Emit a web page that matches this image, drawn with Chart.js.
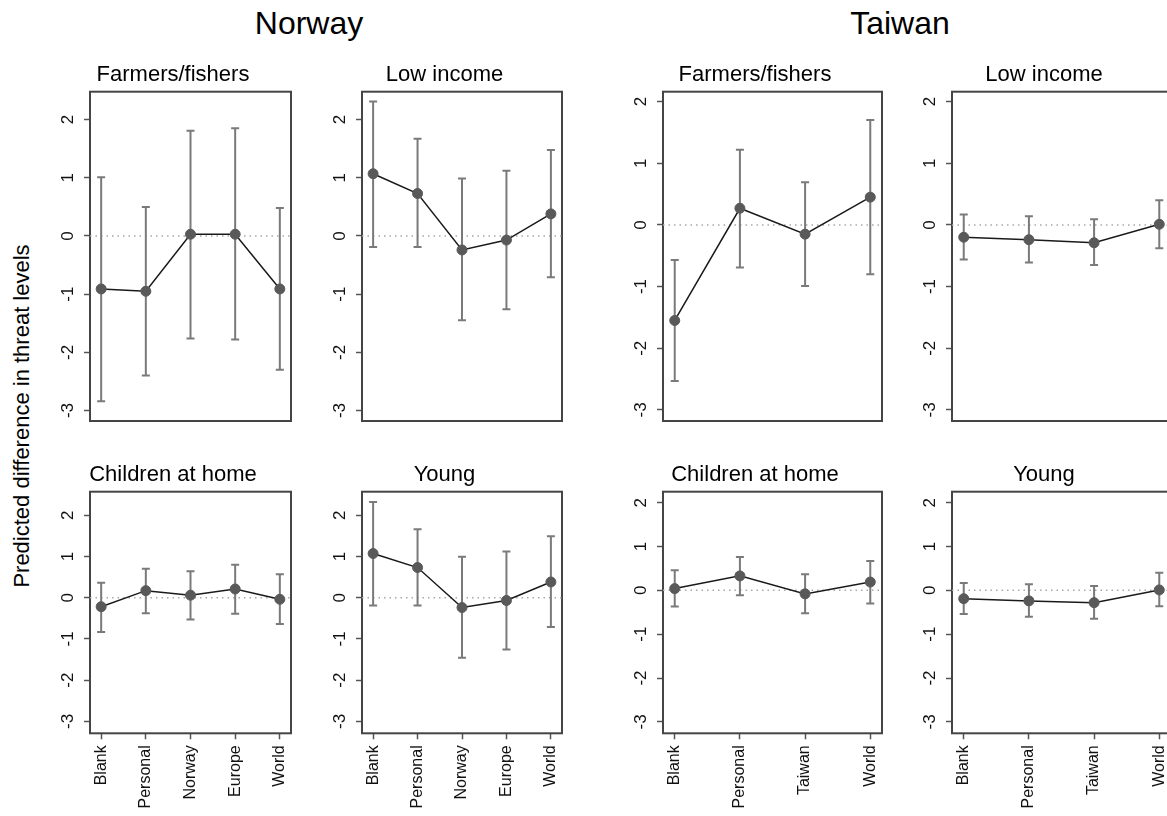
<!DOCTYPE html>
<html>
<head>
<meta charset="utf-8">
<script src="https://cdn.jsdelivr.net/npm/chart.js@4.4.0/dist/chart.umd.min.js"></script>
<style>
  body { margin: 0; width: 1167px; height: 816px; overflow: hidden; background: #fff; position: relative;
         font-family: 'Liberation Sans', Arial, sans-serif; }
  canvas { position: absolute; }
  .country { position: absolute; top: 5px; font-size: 32px; line-height: 36px; color: #000;
             transform: translateX(-50%); white-space: nowrap; }
  #ytitle { position: absolute; left: 22px; top: 416px; font-size: 22px; line-height: 26px; color: #000;
            white-space: nowrap; transform: translate(-50%, -50%) rotate(-90deg); }
</style>
</head>
<body>
<div class="country" style="left:309px">Norway</div>
<div class="country" style="left:900px">Taiwan</div>
<div id="ytitle">Predicted difference in threat levels</div>
<canvas id="p1"></canvas>
<canvas id="p2"></canvas>
<canvas id="p3"></canvas>
<canvas id="p4"></canvas>
<canvas id="p5"></canvas>
<canvas id="p6"></canvas>
<canvas id="p7"></canvas>
<canvas id="p8"></canvas>
<script>
// categories and tick labels
var norwayCats = ['Blank', 'Personal', 'Norway', 'Europe', 'World'];
var taiwanCats = ['Blank', 'Personal', 'Taiwan', 'World'];
var yTicks = [-3, -2, -1, 0, 1, 2];

// Norway: estimate, lower and upper CI
var noFarmEst = [-0.91, -0.95, 0.03, 0.03, -0.91];
var noFarmLo = [-2.84, -2.40, -1.76, -1.78, -2.30];
var noFarmHi = [1.01, 0.50, 1.81, 1.85, 0.48];
var noIncEst = [1.07, 0.73, -0.24, -0.07, 0.38];
var noIncLo = [-0.19, -0.19, -1.45, -1.26, -0.71];
var noIncHi = [2.31, 1.67, 0.99, 1.12, 1.48];
var noKidsEst = [-0.22, 0.17, 0.06, 0.21, -0.04];
var noKidsLo = [-0.83, -0.38, -0.53, -0.39, -0.64];
var noKidsHi = [0.36, 0.70, 0.64, 0.80, 0.57];
var noYoungEst = [1.07, 0.73, -0.24, -0.07, 0.38];
var noYoungLo = [-0.19, -0.19, -1.46, -1.26, -0.71];
var noYoungHi = [2.32, 1.66, 0.99, 1.12, 1.49];

// Taiwan
var twFarmEst = [-1.55, 0.27, -0.15, 0.45];
var twFarmLo = [-2.53, -0.69, -0.99, -0.80];
var twFarmHi = [-0.57, 1.22, 0.69, 1.70];
var twIncEst = [-0.20, -0.24, -0.29, 0.01];
var twIncLo = [-0.56, -0.61, -0.65, -0.38];
var twIncHi = [0.17, 0.14, 0.09, 0.40];
var twKidsEst = [0.04, 0.33, -0.08, 0.19];
var twKidsLo = [-0.37, -0.11, -0.52, -0.30];
var twKidsHi = [0.46, 0.76, 0.37, 0.67];
var twYoungEst = [-0.19, -0.24, -0.28, 0.01];
var twYoungLo = [-0.54, -0.60, -0.65, -0.36];
var twYoungHi = [0.17, 0.14, 0.10, 0.40];

Chart.defaults.font.family = "'Liberation Sans', Arial, sans-serif";

const panels = [
    { id: 'p1', left: 55, top: 60, width: 238, height: 363, title: 'Farmers/fishers', cats: norwayCats, est: noFarmEst, lo: noFarmLo, hi: noFarmHi, yMin: -3.18, yMax: 2.48, xMin: 0.75, xMax: 5.25, labels: false },
    { id: 'p2', left: 327, top: 60, width: 237, height: 363, title: 'Low income', cats: norwayCats, est: noIncEst, lo: noIncLo, hi: noIncHi, yMin: -3.18, yMax: 2.48, xMin: 0.75, xMax: 5.25, labels: false },
    { id: 'p3', left: 628, top: 60, width: 256, height: 363, title: 'Farmers/fishers', cats: taiwanCats, est: twFarmEst, lo: twFarmLo, hi: twFarmHi, yMin: -3.18, yMax: 2.16, xMin: 0.82, xMax: 4.18, labels: false },
    { id: 'p4', left: 917, top: 60, width: 256, height: 363, title: 'Low income', cats: taiwanCats, est: twIncEst, lo: twIncLo, hi: twIncHi, yMin: -3.18, yMax: 2.16, xMin: 0.82, xMax: 4.18, labels: false },
    { id: 'p5', left: 55, top: 460, width: 238, height: 356, title: 'Children at home', cats: norwayCats, est: noKidsEst, lo: noKidsLo, hi: noKidsHi, yMin: -3.29, yMax: 2.57, xMin: 0.75, xMax: 5.25, labels: true },
    { id: 'p6', left: 327, top: 460, width: 237, height: 356, title: 'Young', cats: norwayCats, est: noYoungEst, lo: noYoungLo, hi: noYoungHi, yMin: -3.29, yMax: 2.57, xMin: 0.75, xMax: 5.25, labels: true },
    { id: 'p7', left: 628, top: 460, width: 256, height: 356, title: 'Children at home', cats: taiwanCats, est: twKidsEst, lo: twKidsLo, hi: twKidsHi, yMin: -3.26, yMax: 2.25, xMin: 0.82, xMax: 4.18, labels: true },
    { id: 'p8', left: 917, top: 460, width: 256, height: 356, title: 'Young', cats: taiwanCats, est: twYoungEst, lo: twYoungLo, hi: twYoungHi, yMin: -3.26, yMax: 2.25, xMin: 0.82, xMax: 4.18, labels: true }
];

// box round the plot region
const framePlugin = {
    id: 'frame',
    beforeDatasetsDraw(chart) {
        const { ctx, chartArea: a } = chart;
        ctx.save();
        ctx.strokeStyle = '#454545';
        ctx.lineWidth = 2;
        ctx.strokeRect(a.left, a.top, a.right - a.left, a.bottom - a.top);
        ctx.restore();
    }
};

function makeChart(p) {
    const canvas = document.getElementById(p.id);
    canvas.width = p.width;
    canvas.height = p.height;
    canvas.style.left = p.left + 'px';
    canvas.style.top = p.top + 'px';

    const xs = p.cats.map((c, i) => i + 1);
    const datasets = [];
    // estimates on top
    datasets.push({
        data: xs.map((x, i) => ({ x: x, y: p.est[i] })),
        showLine: true,
        borderColor: '#1a1a1a',
        borderWidth: 1.5,
        pointRadius: 5,
        pointBackgroundColor: '#595959',
        pointBorderColor: '#595959',
        pointBorderWidth: 1
    });
    // confidence intervals
    xs.forEach((x, i) => {
        datasets.push({
            data: [{ x: x, y: p.lo[i] }, { x: x, y: p.hi[i] }],
            showLine: true,
            borderColor: '#7a7a7a',
            borderWidth: 2,
            pointStyle: 'line',
            pointRadius: 4,
            pointBorderColor: '#7a7a7a',
            pointBorderWidth: 2
        });
    });
    // dotted zero line
    datasets.push({
        data: [{ x: p.xMin, y: 0 }, { x: p.xMax, y: 0 }],
        showLine: true,
        borderColor: '#a8a8a8',
        borderWidth: 1.5,
        borderDash: [1.5, 4],
        pointRadius: 0
    });

    const tickGrid = { drawOnChartArea: false, drawTicks: true, tickLength: 6, tickColor: '#555', tickWidth: 1.5 };

    new Chart(canvas, {
        type: 'scatter',
        data: { datasets: datasets },
        plugins: [framePlugin],
        options: {
            responsive: false,
            animation: false,
            events: [],
            devicePixelRatio: 1,
            layout: { autoPadding: false, padding: { left: 0, right: 2, top: 0, bottom: p.labels ? 0 : 2 } },
            plugins: {
                legend: { display: false },
                tooltip: { enabled: false },
                title: {
                    display: true,
                    text: p.title,
                    color: '#000',
                    font: { size: 22, weight: 'normal', lineHeight: 1.2 },
                    padding: { top: 2, bottom: 3.3 }
                }
            },
            scales: {
                x: {
                    type: 'linear',
                    min: p.xMin,
                    max: p.xMax,
                    display: p.labels,
                    afterBuildTicks: s => { s.ticks = xs.map(v => ({ value: v })); },
                    afterFit: s => {
                        s.height = p.labels ? 82.7 : 0;
                        s.paddingLeft = 0; s.paddingRight = 0;
                    },
                    grid: tickGrid,
                    border: { display: false },
                    ticks: {
                        autoSkip: false,
                        minRotation: 90,
                        maxRotation: 90,
                        padding: 6,
                        color: '#111',
                        font: { size: 16 },
                        callback: v => p.cats[Math.round(v) - 1]
                    }
                },
                y: {
                    type: 'linear',
                    min: p.yMin,
                    max: p.yMax,
                    afterBuildTicks: s => { s.ticks = yTicks.map(v => ({ value: v })); },
                    afterFit: s => {
                        s.width = 35;
                        s.paddingTop = 0; s.paddingBottom = 0;
                    },
                    grid: tickGrid,
                    border: { display: false },
                    ticks: {
                        autoSkip: false,
                        minRotation: 90,
                        maxRotation: 90,
                        crossAlign: 'center',
                        padding: 8,
                        color: '#111',
                        font: { size: 17 },
                        callback: v => String(v)
                    }
                }
            }
        }
    });
}

panels.forEach(makeChart);
</script>
</body>
</html>
